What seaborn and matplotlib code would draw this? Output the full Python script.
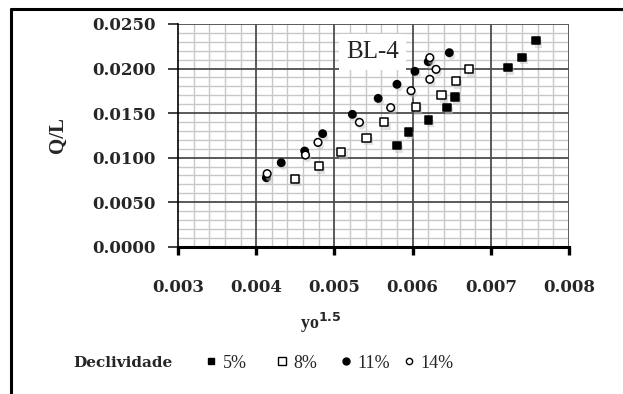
import numpy as np
import pandas as pd
import matplotlib
matplotlib.use("Agg")
import matplotlib.pyplot as plt
import matplotlib.patheffects as pe
from matplotlib.lines import Line2D
from matplotlib.ticker import MultipleLocator, FormatStrFormatter
import seaborn as sns

# ---- data ----
x_5 = [0.00580, 0.00595, 0.00620, 0.00644, 0.00654, 0.00722, 0.00740, 0.00758]
y_5 = [0.01134, 0.01287, 0.01422, 0.01561, 0.01680, 0.02010, 0.02126, 0.02313]
x_8 = [0.00450, 0.00480, 0.00509, 0.00541, 0.00564, 0.00604, 0.00637, 0.00655, 0.00672]
y_8 = [0.00763, 0.00902, 0.01063, 0.01224, 0.01396, 0.01568, 0.01703, 0.01860, 0.01995]
x_11 = [0.00413, 0.00432, 0.00462, 0.00485, 0.00523, 0.00556, 0.00580, 0.00603, 0.00620, 0.00647]
y_11 = [0.00775, 0.00943, 0.01074, 0.01269, 0.01486, 0.01665, 0.01823, 0.01969, 0.02077, 0.02178]
x_14 = [0.00414, 0.00463, 0.00479, 0.00532, 0.00572, 0.00598, 0.00622, 0.00630, 0.00622]
y_14 = [0.00820, 0.01029, 0.01171, 0.01396, 0.01561, 0.01751, 0.01879, 0.01991, 0.02122]
series_labels = ["5%", "8%", "11%", "14%"]
x_ticks = [0.003, 0.004, 0.005, 0.006, 0.007, 0.008]
y_ticks = [0.0000, 0.0050, 0.0100, 0.0150, 0.0200, 0.0250]

frames = []
for lab, xs, ys in zip(series_labels, [x_5, x_8, x_11, x_14], [y_5, y_8, y_11, y_14]):
    frames.append(pd.DataFrame({"x": xs, "y": ys, "Declividade": lab}))
df = pd.concat(frames, ignore_index=True)

sns.set_theme(style="white")
plt.rcParams["font.family"] = ["Liberation Serif", "DejaVu Serif"]
TICKFONT = ["DejaVu Serif"]

fig = plt.figure(figsize=(6.23, 3.94), dpi=100)
ax = fig.add_axes([178 / 623, 1 - 246.7 / 394, (569 - 178) / 623, (246.7 - 24) / 394])

markers = {"5%": "s", "8%": "s", "11%": "o", "14%": "o"}
faces = {"5%": "black", "8%": "white", "11%": "black", "14%": "white"}
sizes = {"5%": 28, "8%": 34, "11%": 28, "14%": 30}
shadow = [pe.SimplePatchShadow(offset=(1.5, -2.5), shadow_rgbFace="#c4c4c4", alpha=0.5), pe.Normal()]
for lab in series_labels:
    sub = df[df["Declividade"] == lab]
    sns.scatterplot(data=sub, x="x", y="y", ax=ax, marker=markers[lab], s=sizes[lab],
                    color=faces[lab], edgecolor="black", linewidth=1.1, legend=False,
                    zorder=5, path_effects=shadow)

ax.set_xlim(0.003, 0.008)
ax.set_ylim(0.0, 0.025)
ax.set_xticks(x_ticks)
ax.set_yticks(y_ticks)
ax.xaxis.set_major_formatter(FormatStrFormatter("%.3f"))
ax.yaxis.set_major_formatter(FormatStrFormatter("%.4f"))
ax.xaxis.set_minor_locator(MultipleLocator(0.0002))
ax.yaxis.set_minor_locator(MultipleLocator(0.001))
ax.grid(which="minor", color="#c8c8c8", linewidth=1.0)
ax.grid(which="major", visible=False)
ax.set_axisbelow(True)
for xv in x_ticks[1:]:
    ax.axvline(xv, color="#4d4d4d", linewidth=1.3, zorder=1)
for yv in y_ticks[1:]:
    ax.axhline(yv, color="#4d4d4d", linewidth=1.3, zorder=1)

for s in ["top", "right"]:
    ax.spines[s].set_visible(False)
ax.spines["left"].set_color("black")
ax.spines["left"].set_linewidth(1.2)
ax.spines["bottom"].set_color("black")
ax.spines["bottom"].set_linewidth(2.2)
ax.spines["bottom"].set_zorder(2)
ax.spines["left"].set_zorder(2)

ax.tick_params(axis="y", which="major", direction="out", length=7, width=1.3, color="#333333",
               left=True, labelsize=12, pad=9)
ax.tick_params(axis="x", which="major", direction="out", length=6, width=2.4, color="black",
               bottom=True, labelsize=12, pad=17)
ax.tick_params(which="minor", length=0)
for lbl in ax.get_xticklabels() + ax.get_yticklabels():
    lbl.set_fontweight("bold")
    lbl.set_family(TICKFONT)

ax.set_xlabel(r"yo$^{\mathbf{1.5}}$", fontsize=13, fontweight="bold")
ax.xaxis.set_label_coords((321 - 178) / 391, -(311 - 246.7) / 222.7)
ax.set_ylabel("Q/L", fontsize=15, fontweight="bold")
ax.yaxis.set_label_coords((68 - 178) / 391, 0.5)

ax.text(0.005487, 0.02185, "BL-4", fontsize=18, ha="center", va="center",
        bbox=dict(facecolor="white", edgecolor="none", pad=5), zorder=6)

# legend at bottom
fig.text(123 / 623, 1 - 363 / 394, "Declividade", fontsize=11, fontweight="bold",
         family=TICKFONT, ha="center", va="center")
handles = [
    Line2D([], [], marker="s", linestyle="none", markersize=5, markerfacecolor="black", markeredgecolor="black"),
    Line2D([], [], marker="s", linestyle="none", markersize=6, markerfacecolor="white", markeredgecolor="black"),
    Line2D([], [], marker="o", linestyle="none", markersize=5, markerfacecolor="black", markeredgecolor="black"),
    Line2D([], [], marker="o", linestyle="none", markersize=4.5, markerfacecolor="white", markeredgecolor="black"),
]
marker_px = [210, 281, 345, 408]
for h, lab, px in zip(handles, series_labels, marker_px):
    fig.legend([h], [lab], loc="center left", bbox_to_anchor=(px / 623 - 0.009, 1 - 363 / 394),
               frameon=False, fontsize=13, handletextpad=0.25, handlelength=0.75,
               borderpad=0.0, borderaxespad=0.0)

# chart frame (top and left edges visible)
fig.add_artist(Line2D([11 / 623, 1.0], [1 - 9 / 394, 1 - 9 / 394], color="black", linewidth=2.2,
                      transform=fig.transFigure))
fig.add_artist(Line2D([11 / 623, 11 / 623], [0, 1 - 9 / 394], color="black", linewidth=2.2,
                      transform=fig.transFigure))

fig.savefig("out.png", dpi=100)
